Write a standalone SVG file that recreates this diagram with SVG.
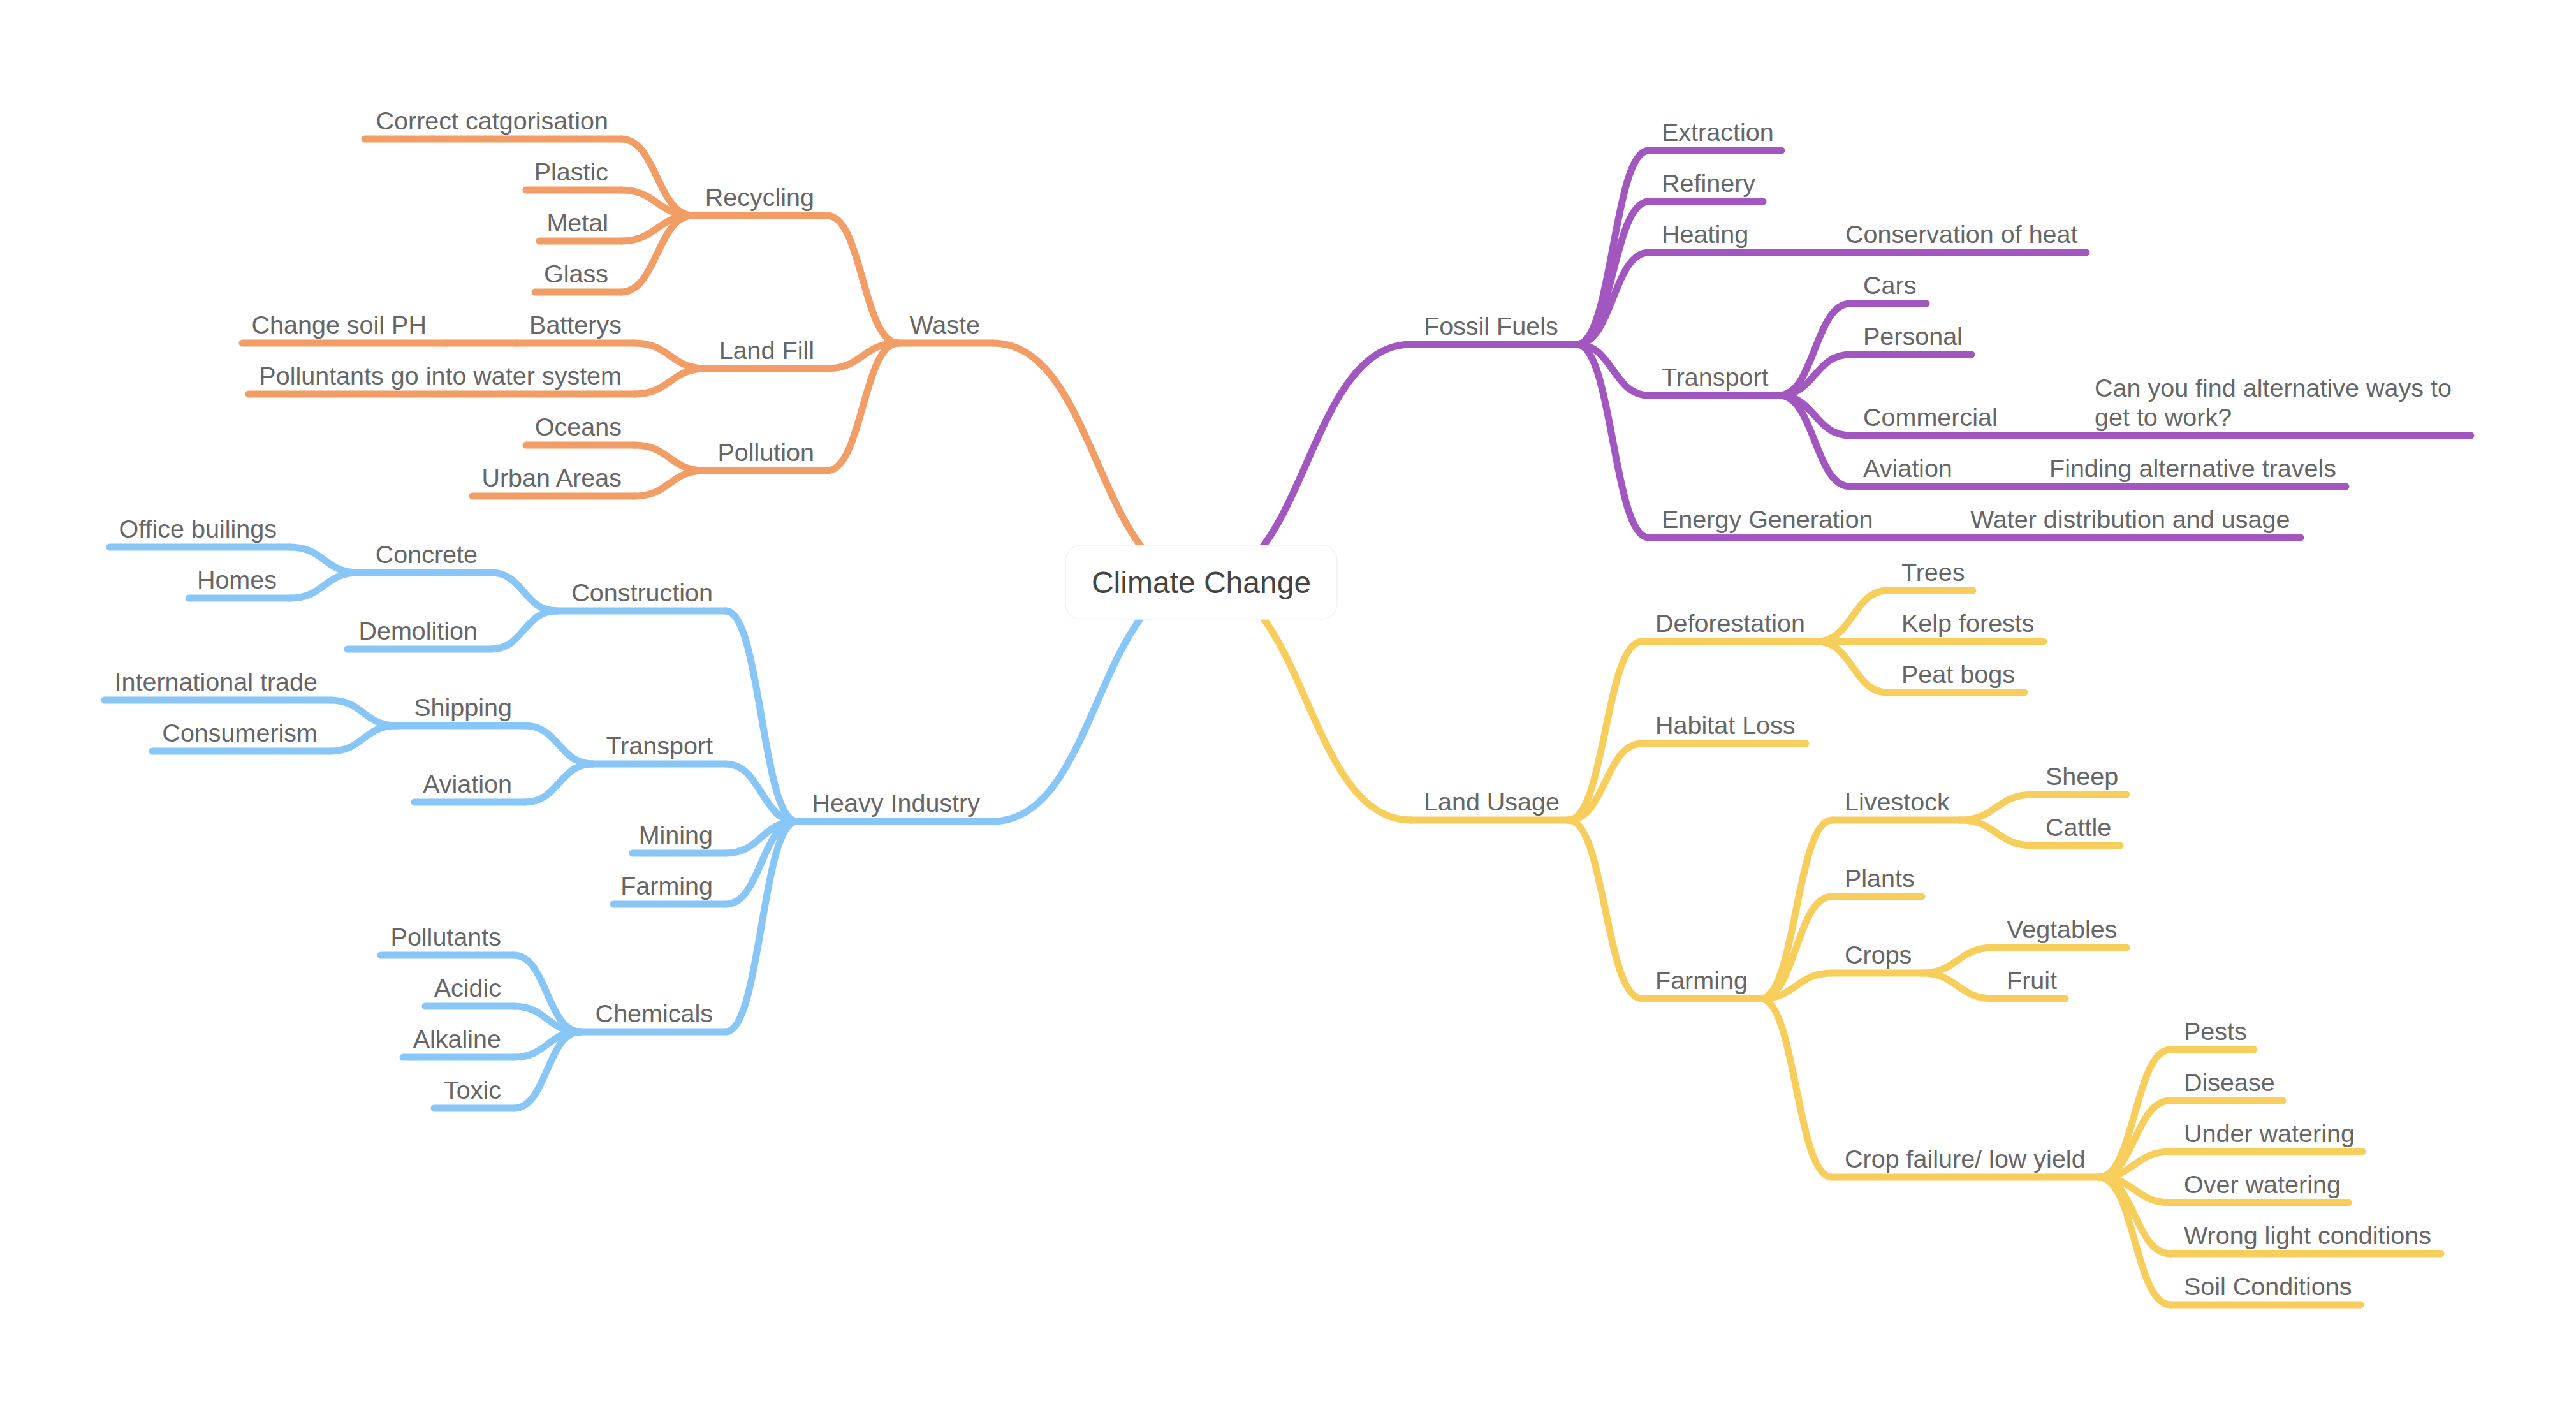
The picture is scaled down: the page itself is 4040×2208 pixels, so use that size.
<svg xmlns="http://www.w3.org/2000/svg" width="4040" height="2208" viewBox="0 0 4040 2208">
<style>
.u{fill:none;stroke-width:11;stroke-linecap:round}
.c{fill:none;stroke-width:11;stroke-linecap:round}
.o{stroke:#F19D65}.p{stroke:#A256C0}.b{stroke:#89C6F8}.y{stroke:#F7CE5C}
text{font-family:"Liberation Sans",Arial,Helvetica,sans-serif;font-size:39.5px;fill:#666}
.e{text-anchor:end}
.root{font-size:48px;fill:#444;text-anchor:middle}
</style>
<rect width="4040" height="2208" fill="#fff"/>
<g id="connectors">
<path class="c p" d="M1885,913 C2049,913 2049,540 2213,540"/>
<path class="c y" d="M1885,913 C2049,913 2049,1286 2213,1286"/>
<path class="c o" d="M1885,913 C1721,913 1721,538 1557,538"/>
<path class="c b" d="M1885,913 C1721,913 1721,1288 1557,1288"/>
<path class="c p" d="M2473,540 C2529.5,540 2529.5,236 2586,236"/>
<path class="c p" d="M2473,540 C2529.5,540 2529.5,316 2586,316"/>
<path class="c p" d="M2473,540 C2529.5,540 2529.5,396 2586,396"/>
<path class="c p" d="M2473,540 C2529.5,540 2529.5,620 2586,620"/>
<path class="c p" d="M2473,540 C2529.5,540 2529.5,843 2586,843"/>
<path class="c p" d="M2762,396 H2874"/>
<path class="c p" d="M2790,620 C2846,620 2846,476 2902,476"/>
<path class="c p" d="M2790,620 C2846,620 2846,556 2902,556"/>
<path class="c p" d="M2790,620 C2846,620 2846,683 2902,683"/>
<path class="c p" d="M2790,620 C2846,620 2846,763 2902,763"/>
<path class="c p" d="M3153,683 H3265"/>
<path class="c p" d="M3083,763 H3194"/>
<path class="c p" d="M2958,843 H3070"/>
<path class="c y" d="M2460,1286 C2517.5,1286 2517.5,1006 2575,1006"/>
<path class="c y" d="M2460,1286 C2517.5,1286 2517.5,1166 2575,1166"/>
<path class="c y" d="M2460,1286 C2517.5,1286 2517.5,1566 2575,1566"/>
<path class="c y" d="M2850,1006 C2905.5,1006 2905.5,926 2961,926"/>
<path class="c y" d="M2850,1006 H2961"/>
<path class="c y" d="M2850,1006 C2905.5,1006 2905.5,1086 2961,1086"/>
<path class="c y" d="M2761,1566 C2817,1566 2817,1286 2873,1286"/>
<path class="c y" d="M2761,1566 C2817,1566 2817,1406 2873,1406"/>
<path class="c y" d="M2761,1566 C2817,1566 2817,1526 2873,1526"/>
<path class="c y" d="M2761,1566 C2817,1566 2817,1846 2873,1846"/>
<path class="c y" d="M3074,1286 C3131,1286 3131,1246 3188,1246"/>
<path class="c y" d="M3074,1286 C3131,1286 3131,1326 3188,1326"/>
<path class="c y" d="M3014,1526 C3070,1526 3070,1486 3126,1486"/>
<path class="c y" d="M3014,1526 C3070,1526 3070,1566 3126,1566"/>
<path class="c y" d="M3292,1846 C3348,1846 3348,1646 3404,1646"/>
<path class="c y" d="M3292,1846 C3348,1846 3348,1726 3404,1726"/>
<path class="c y" d="M3292,1846 C3348,1846 3348,1806 3404,1806"/>
<path class="c y" d="M3292,1846 C3348,1846 3348,1886 3404,1886"/>
<path class="c y" d="M3292,1846 C3348,1846 3348,1966 3404,1966"/>
<path class="c y" d="M3292,1846 C3348,1846 3348,2046 3404,2046"/>
<path class="c o" d="M1409,538 C1353,538 1353,338 1297,338"/>
<path class="c o" d="M1409,538 C1353,538 1353,578 1297,578"/>
<path class="c o" d="M1409,538 C1353,538 1353,738 1297,738"/>
<path class="c o" d="M1087,338 C1030.5,338 1030.5,218 974,218"/>
<path class="c o" d="M1087,338 C1030.5,338 1030.5,298 974,298"/>
<path class="c o" d="M1087,338 C1030.5,338 1030.5,378 974,378"/>
<path class="c o" d="M1087,338 C1030.5,338 1030.5,458 974,458"/>
<path class="c o" d="M1107,578 C1051,578 1051,538 995,538"/>
<path class="c o" d="M1107,578 C1051,578 1051,618 995,618"/>
<path class="c o" d="M811,538 H699"/>
<path class="c o" d="M1105,738 C1050,738 1050,698 995,698"/>
<path class="c o" d="M1105,738 C1050,738 1050,778 995,778"/>
<path class="c b" d="M1250,1288 C1194,1288 1194,958 1138,958"/>
<path class="c b" d="M1250,1288 C1194,1288 1194,1198 1138,1198"/>
<path class="c b" d="M1250,1288 C1194,1288 1194,1338 1138,1338"/>
<path class="c b" d="M1250,1288 C1194,1288 1194,1418 1138,1418"/>
<path class="c b" d="M1250,1288 C1194,1288 1194,1618 1138,1618"/>
<path class="c b" d="M873,958 C821.5,958 821.5,898 770,898"/>
<path class="c b" d="M873,958 C821.5,958 821.5,1018 770,1018"/>
<path class="c b" d="M562,898 C508.5,898 508.5,858 455,858"/>
<path class="c b" d="M562,898 C508.5,898 508.5,938 455,938"/>
<path class="c b" d="M930,1198 C876.5,1198 876.5,1138 823,1138"/>
<path class="c b" d="M930,1198 C876.5,1198 876.5,1258 823,1258"/>
<path class="c b" d="M622,1138 C570,1138 570,1098 518,1098"/>
<path class="c b" d="M622,1138 C570,1138 570,1178 518,1178"/>
<path class="c b" d="M910,1618 C858,1618 858,1498 806,1498"/>
<path class="c b" d="M910,1618 C858,1618 858,1578 806,1578"/>
<path class="c b" d="M910,1618 C858,1618 858,1658 806,1658"/>
<path class="c b" d="M910,1618 C858,1618 858,1738 806,1738"/>
</g>
<g id="n-fossil-fuels"><path class="u p" d="M2213,540 H2473"/><text x="2233" y="525">Fossil Fuels</text></g>
<g id="n-extraction"><path class="u p" d="M2586,236 H2794"/><text x="2606" y="221">Extraction</text></g>
<g id="n-refinery"><path class="u p" d="M2586,316 H2765"/><text x="2606" y="301">Refinery</text></g>
<g id="n-heating"><path class="u p" d="M2586,396 H2762"/><text x="2606" y="381">Heating</text></g>
<g id="n-conservation"><path class="u p" d="M2874,396 H3272"/><text x="2894" y="381">Conservation of heat</text></g>
<g id="n-ff-transport"><path class="u p" d="M2586,620 H2790"/><text x="2606" y="605">Transport</text></g>
<g id="n-cars"><path class="u p" d="M2902,476 H3021"/><text x="2922" y="461">Cars</text></g>
<g id="n-personal"><path class="u p" d="M2902,556 H3092"/><text x="2922" y="541">Personal</text></g>
<g id="n-commercial"><path class="u p" d="M2902,683 H3153"/><text x="2922" y="668">Commercial</text></g>
<g id="n-alt-work"><path class="u p" d="M3265,683 H3875"/><text x="3285" y="622">Can you find alternative ways to</text><text x="3285" y="668">get to work?</text></g>
<g id="n-ff-aviation"><path class="u p" d="M2902,763 H3083"/><text x="2922" y="748">Aviation</text></g>
<g id="n-alt-travel"><path class="u p" d="M3194,763 H3679"/><text x="3214" y="748">Finding alternative travels</text></g>
<g id="n-energy"><path class="u p" d="M2586,843 H2958"/><text x="2606" y="828">Energy Generation</text></g>
<g id="n-water"><path class="u p" d="M3070,843 H3608"/><text x="3090" y="828">Water distribution and usage</text></g>
<g id="n-land-usage"><path class="u y" d="M2213,1286 H2460"/><text x="2233" y="1271">Land Usage</text></g>
<g id="n-deforestation"><path class="u y" d="M2575,1006 H2850"/><text x="2596" y="991">Deforestation</text></g>
<g id="n-trees"><path class="u y" d="M2961,926 H3094"/><text x="2982" y="911">Trees</text></g>
<g id="n-kelp"><path class="u y" d="M2961,1006 H3205"/><text x="2982" y="991">Kelp forests</text></g>
<g id="n-peat"><path class="u y" d="M2961,1086 H3175"/><text x="2982" y="1071">Peat bogs</text></g>
<g id="n-habitat"><path class="u y" d="M2575,1166 H2832"/><text x="2596" y="1151">Habitat Loss</text></g>
<g id="n-lu-farming"><path class="u y" d="M2575,1566 H2761"/><text x="2596" y="1551">Farming</text></g>
<g id="n-livestock"><path class="u y" d="M2873,1286 H3074"/><text x="2893" y="1271">Livestock</text></g>
<g id="n-sheep"><path class="u y" d="M3188,1246 H3335"/><text x="3208" y="1231">Sheep</text></g>
<g id="n-cattle"><path class="u y" d="M3188,1326 H3325"/><text x="3208" y="1311">Cattle</text></g>
<g id="n-plants"><path class="u y" d="M2873,1406 H3014"/><text x="2893" y="1391">Plants</text></g>
<g id="n-crops"><path class="u y" d="M2873,1526 H3014"/><text x="2893" y="1511">Crops</text></g>
<g id="n-vegtables"><path class="u y" d="M3126,1486 H3335"/><text x="3147" y="1471">Vegtables</text></g>
<g id="n-fruit"><path class="u y" d="M3126,1566 H3239"/><text x="3147" y="1551">Fruit</text></g>
<g id="n-crop-failure"><path class="u y" d="M2873,1846 H3292"/><text x="2893" y="1831">Crop failure/ low yield</text></g>
<g id="n-pests"><path class="u y" d="M3404,1646 H3535"/><text x="3425" y="1631">Pests</text></g>
<g id="n-disease"><path class="u y" d="M3404,1726 H3580"/><text x="3425" y="1711">Disease</text></g>
<g id="n-under"><path class="u y" d="M3404,1806 H3705"/><text x="3425" y="1791">Under watering</text></g>
<g id="n-over"><path class="u y" d="M3404,1886 H3683"/><text x="3425" y="1871">Over watering</text></g>
<g id="n-light"><path class="u y" d="M3404,1966 H3828"/><text x="3425" y="1951">Wrong light conditions</text></g>
<g id="n-soil"><path class="u y" d="M3404,2046 H3702"/><text x="3425" y="2031">Soil Conditions</text></g>
<g id="n-waste"><path class="u o" d="M1409,538 H1557"/><text class="e" x="1537" y="523">Waste</text></g>
<g id="n-recycling"><path class="u o" d="M1087,338 H1297"/><text class="e" x="1277" y="323">Recycling</text></g>
<g id="n-correct"><path class="u o" d="M572,218 H974"/><text class="e" x="954" y="203">Correct catgorisation</text></g>
<g id="n-plastic"><path class="u o" d="M825,298 H974"/><text class="e" x="954" y="283">Plastic</text></g>
<g id="n-metal"><path class="u o" d="M846,378 H974"/><text class="e" x="954" y="363">Metal</text></g>
<g id="n-glass"><path class="u o" d="M839,458 H974"/><text class="e" x="954" y="443">Glass</text></g>
<g id="n-landfill"><path class="u o" d="M1107,578 H1297"/><text class="e" x="1277" y="563">Land Fill</text></g>
<g id="n-batterys"><path class="u o" d="M811,538 H995"/><text class="e" x="975" y="523">Batterys</text></g>
<g id="n-soil-ph"><path class="u o" d="M380,538 H699"/><text class="e" x="669" y="523">Change soil PH</text></g>
<g id="n-polluntants"><path class="u o" d="M390,618 H995"/><text class="e" x="975" y="603">Polluntants go into water system</text></g>
<g id="n-pollution"><path class="u o" d="M1105,738 H1297"/><text class="e" x="1277" y="723">Pollution</text></g>
<g id="n-oceans"><path class="u o" d="M825,698 H995"/><text class="e" x="975" y="683">Oceans</text></g>
<g id="n-urban"><path class="u o" d="M741,778 H995"/><text class="e" x="975" y="763">Urban Areas</text></g>
<g id="n-heavy"><path class="u b" d="M1250,1288 H1557"/><text class="e" x="1537" y="1273">Heavy Industry</text></g>
<g id="n-construction"><path class="u b" d="M873,958 H1138"/><text class="e" x="1118" y="943">Construction</text></g>
<g id="n-concrete"><path class="u b" d="M562,898 H770"/><text class="e" x="749" y="883">Concrete</text></g>
<g id="n-office"><path class="u b" d="M172,858 H455"/><text class="e" x="434" y="843">Office builings</text></g>
<g id="n-homes"><path class="u b" d="M296,938 H455"/><text class="e" x="434" y="923">Homes</text></g>
<g id="n-demolition"><path class="u b" d="M545,1018 H770"/><text class="e" x="749" y="1003">Demolition</text></g>
<g id="n-hi-transport"><path class="u b" d="M930,1198 H1138"/><text class="e" x="1118" y="1183">Transport</text></g>
<g id="n-shipping"><path class="u b" d="M622,1138 H823"/><text class="e" x="803" y="1123">Shipping</text></g>
<g id="n-intl"><path class="u b" d="M164,1098 H518"/><text class="e" x="498" y="1083">International trade</text></g>
<g id="n-consumerism"><path class="u b" d="M239,1178 H518"/><text class="e" x="498" y="1163">Consumerism</text></g>
<g id="n-hi-aviation"><path class="u b" d="M650,1258 H823"/><text class="e" x="803" y="1243">Aviation</text></g>
<g id="n-mining"><path class="u b" d="M992,1338 H1138"/><text class="e" x="1118" y="1323">Mining</text></g>
<g id="n-hi-farming"><path class="u b" d="M962,1418 H1138"/><text class="e" x="1118" y="1403">Farming</text></g>
<g id="n-chemicals"><path class="u b" d="M910,1618 H1138"/><text class="e" x="1118" y="1603">Chemicals</text></g>
<g id="n-pollutants"><path class="u b" d="M597,1498 H806"/><text class="e" x="786" y="1483">Pollutants</text></g>
<g id="n-acidic"><path class="u b" d="M667,1578 H806"/><text class="e" x="786" y="1563">Acidic</text></g>
<g id="n-alkaline"><path class="u b" d="M632,1658 H806"/><text class="e" x="786" y="1643">Alkaline</text></g>
<g id="n-toxic"><path class="u b" d="M681,1738 H806"/><text class="e" x="786" y="1723">Toxic</text></g>
<g id="n-root"><rect x="1671" y="855" width="426" height="116" rx="24" fill="#fff" stroke="#eef2f7" stroke-width="1.5"/><text class="root" x="1884" y="930">Climate Change</text></g>
</svg>
